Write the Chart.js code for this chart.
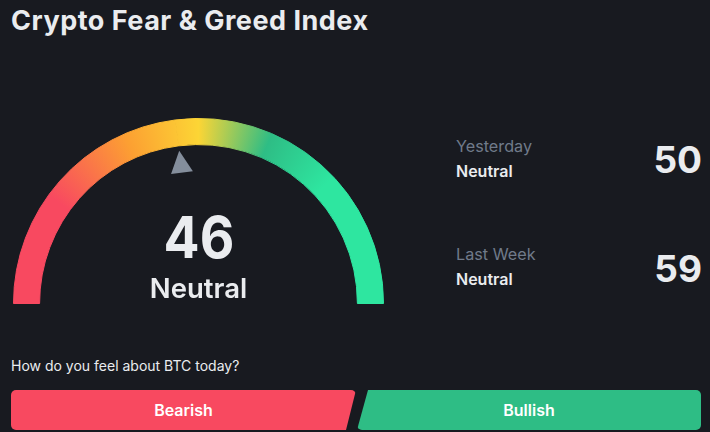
<!DOCTYPE html>
<html>
<head>
<meta charset="utf-8">
<script src="https://cdn.jsdelivr.net/npm/chart.js@4"></script>
<style>
  html, body { margin: 0; padding: 0; background: #181a20; overflow: hidden; }
  body { width: 710px; height: 432px; position: relative; font-family: Inter, sans-serif; }
  .t { position: absolute; white-space: nowrap; line-height: 1; }
  #gauge-wrap { position: absolute; left: 0; top: 100px; width: 397px; height: 204px; }
  .btn { position: absolute; top: 390px; height: 40px; line-height: 41px; text-align: center; color: #fff;
         font-size: 16px; font-weight: 600; border-radius: 5px; }
  #bear { left: 11px; width: 345px; background: #f84960; clip-path: polygon(0 0, 100% 0, 335px 100%, 0 100%); }
  #bull { left: 357px; width: 344px; background: #2ebd85; clip-path: polygon(11px 0, 100% 0, 100% 100%, 0 100%); }
  .lab { left: 456px; font-size: 16.2px; color: #707a8a; }
  .sub { left: 456px; font-size: 16px; font-weight: 600; color: #eaecef; }
  .val { right: 8px; font-size: 37px; font-weight: 700; color: #eaecef; }
</style>
</head>
<body>
<div class="t" id="title" style="left:11px;top:6.7px;font-size:27px;font-weight:700;letter-spacing:.5px;color:#eaecef"></div>
<div id="gauge-wrap"><canvas id="gauge"></canvas></div>
<div class="t" id="score" style="left:98.5px;width:200px;text-align:center;top:207.5px;font-size:58px;font-weight:700;color:#eaecef;transform:scaleX(.92)"></div>
<div class="t" id="mood" style="left:98.5px;width:200px;text-align:center;top:274.5px;font-size:27.5px;font-weight:600;color:#eaecef"></div>

<div class="t lab" id="lab0" style="top:138.3px"></div>
<div class="t sub" id="sub0" style="top:163px"></div>
<div class="t val" id="val0" style="top:141.3px"></div>
<div class="t lab" id="lab1" style="top:246px"></div>
<div class="t sub" id="sub1" style="top:271.2px"></div>
<div class="t val" id="val1" style="top:249.5px"></div>

<div class="t" id="question" style="left:11px;top:359px;font-size:14px;color:#eaecef"></div>
<div class="btn" id="bear"></div>
<div class="btn" id="bull"></div>

<script>
const titleText = "Crypto Fear & Greed Index";
const gaugeValues = [46, 54];
const moodText = "Neutral";
const historyLabels = ["Yesterday", "Last Week"];
const historyMoods = ["Neutral", "Neutral"];
const historyValues = [50, 59];
const questionText = "How do you feel about BTC today?";
const voteLabels = ["Bearish", "Bullish"];
const gradientStops = [0, 0.1, 0.185, 0.25, 0.315, 0.38, 0.5];
const gradientColors = ["#f84960", "#f84960", "#fca032", "#fcd535", "#2ebd85", "#2ee6a0", "#2ee6a0"];

document.getElementById("title").textContent = titleText;
document.getElementById("score").textContent = gaugeValues[0];
document.getElementById("mood").textContent = moodText;
historyLabels.forEach((l, i) => {
  document.getElementById("lab" + i).textContent = l;
  document.getElementById("sub" + i).textContent = historyMoods[i];
  document.getElementById("val" + i).textContent = historyValues[i];
});
document.getElementById("question").textContent = questionText;
document.getElementById("bear").textContent = voteLabels[0];
document.getElementById("bull").textContent = voteLabels[1];

// the whole arc shares one conic gradient, starting at the left end of the half circle
function arcGradient(ctx) {
  const area = ctx.chart.chartArea;
  if (!area) return gradientColors[0];
  const g = ctx.chart.ctx.createConicGradient(-Math.PI, (area.left + area.right) / 2, area.bottom);
  gradientStops.forEach((s, i) => g.addColorStop(s, gradientColors[i]));
  return g;
}

// needle sits on the boundary between the two slices, so it follows the score
const needle = {
  id: "needle",
  afterDatasetsDraw(chart) {
    const arc = chart.getDatasetMeta(0).data[0];
    const a = arc.endAngle;
    const ux = Math.cos(a), uy = Math.sin(a);
    const tip = arc.innerRadius - 5;
    const base = arc.innerRadius - 27;
    const half = 11;
    const c = chart.ctx;
    c.save();
    c.fillStyle = "#848e9c";
    c.beginPath();
    c.moveTo(arc.x + ux * tip, arc.y + uy * tip);
    c.lineTo(arc.x + ux * base - uy * half, arc.y + uy * base + ux * half);
    c.lineTo(arc.x + ux * base + uy * half, arc.y + uy * base - ux * half);
    c.closePath();
    c.fill();
    c.restore();
  }
};

new Chart(document.getElementById("gauge"), {
  type: "doughnut",
  data: {
    labels: ["Score", "Rest"],
    datasets: [{
      data: gaugeValues,
      backgroundColor: arcGradient,
      // same gradient on the border hides the seam between the two slices
      borderColor: arcGradient,
      borderWidth: 1,
      spacing: 0
    }]
  },
  options: {
    responsive: true,
    maintainAspectRatio: false,
    animation: false,
    rotation: -90,
    circumference: 180,
    cutout: "85.9%",
    layout: { padding: { left: 13, right: 13, top: 18, bottom: 0 } },
    plugins: { legend: { display: false }, tooltip: { enabled: false } }
  },
  plugins: [needle]
});
</script>
</body>
</html>
